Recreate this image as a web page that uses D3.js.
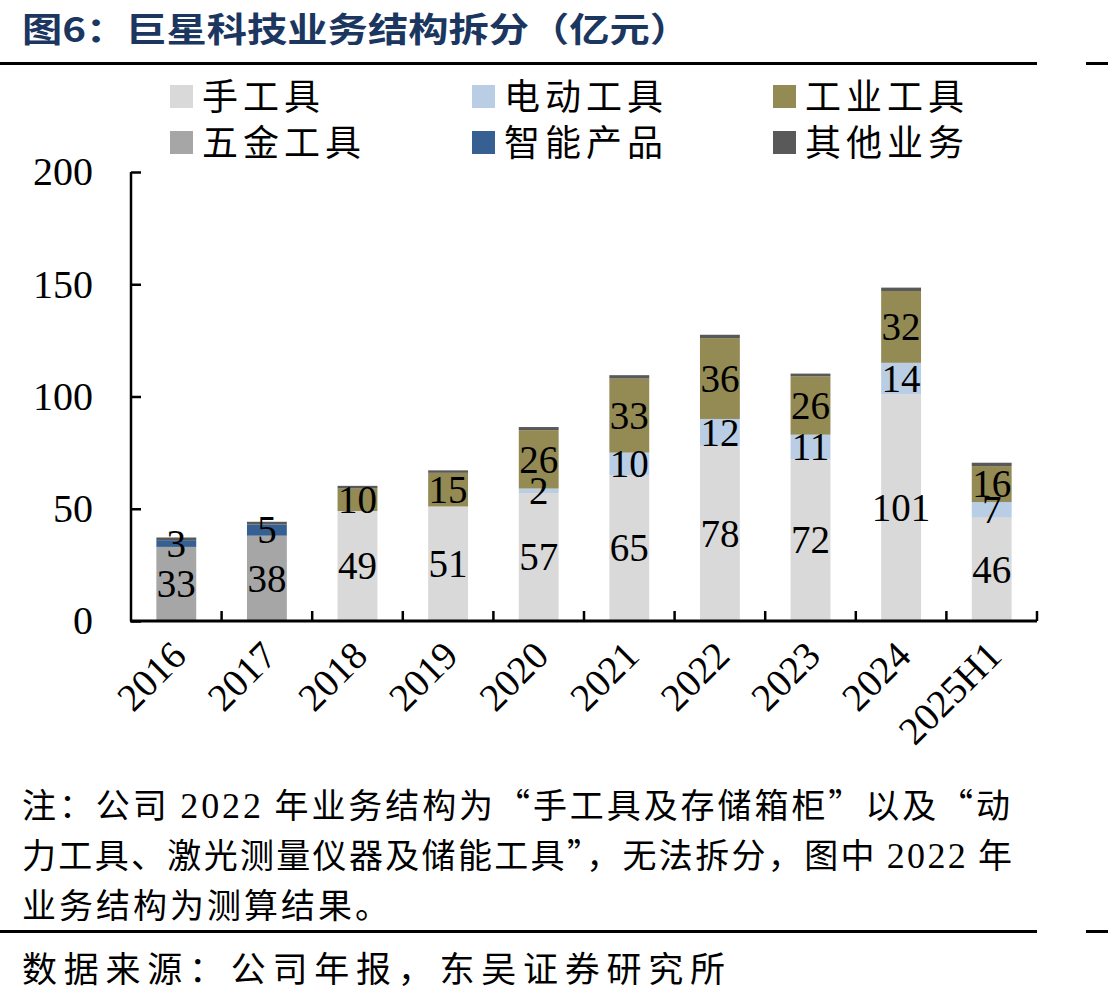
<!DOCTYPE html>
<html>
<head>
<meta charset="utf-8">
<script src="https://cdn.jsdelivr.net/npm/d3@7"></script>
<style>
    html, body { margin: 0; padding: 0; background: #fff; }
    svg { display: block; }
    .num { font-family: "Liberation Serif", "Noto Sans CJK SC", serif; }
    .cjk { font-family: "Liberation Serif", "Noto Sans CJK SC", sans-serif; }
    .note { font-family: "Noto Sans CJK SC", sans-serif; }
</style>
</head>
<body>
<div id="chart"></div>
<script>
    // 巨星科技业务结构拆分（亿元）
    var years = ["2016", "2017", "2018", "2019", "2020", "2021", "2022", "2023", "2024", "2025H1"];
    var handTools       = [0, 0, 49, 51, 57, 65, 78, 72, 101, 46];
    var hardwareTools   = [33, 38, 0, 0, 0, 0, 0, 0, 0, 0];
    var powerTools      = [0, 0, 0, 0, 2, 10, 12, 11, 14, 7];
    var smartProducts   = [3, 5, 0, 0, 0, 0, 0, 0, 0, 0];
    var industrialTools = [0, 0, 10, 15, 26, 33, 36, 26, 32, 16];
    var otherBusiness   = [1.2, 1.2, 1.2, 1.1, 1.4, 1.5, 1.5, 1.2, 1.5, 1.5];
    var yTicks = [0, 50, 100, 150, 200];

    var series = [
        {key: "手工具", values: handTools, color: "#d9d9d9", label: true},
        {key: "五金工具", values: hardwareTools, color: "#a6a6a6", label: true},
        {key: "电动工具", values: powerTools, color: "#b9cde5", label: true},
        {key: "智能产品", values: smartProducts, color: "#376092", label: true},
        {key: "工业工具", values: industrialTools, color: "#948a54", label: true},
        {key: "其他业务", values: otherBusiness, color: "#595959", label: false}
    ];
    // legend order (row by row)
    var legendOrder = ["手工具", "电动工具", "工业工具", "五金工具", "智能产品", "其他业务"];

    var width = 1108, height = 1002;
    var svg = d3.select("#chart").append("svg")
        .attr("width", width)
        .attr("height", height);

    // title
    svg.append("text")
        .attr("x", 22).attr("y", 42)
        .attr("textLength", 668)
        .attr("lengthAdjust", "spacingAndGlyphs")
        .style("font-family", "'Noto Sans CJK SC', sans-serif")
        .style("font-size", "34px")
        .style("font-weight", "bold")
        .style("fill", "#1b365f")
        .text("图6：巨星科技业务结构拆分（亿元）");

    function rule(y) {
        svg.append("rect").attr("x", 0).attr("y", y).attr("width", 1037).attr("height", 3).style("fill", "#000");
        svg.append("rect").attr("x", 1086).attr("y", y).attr("width", 22).attr("height", 3).style("fill", "#000");
    }
    rule(62);
    rule(930);

    // scales
    var x = d3.scaleBand()
        .domain(years)
        .range([131, 1037])
        .paddingInner(0.56)
        .paddingOuter(0.28);

    var y = d3.scaleLinear()
        .domain([0, 200])
        .range([621, 172]);

    var table = years.map(function (yr, i) {
        var row = {year: yr};
        series.forEach(function (s) { row[s.key] = s.values[i]; });
        return row;
    });

    var stack = d3.stack().keys(series.map(function (s) { return s.key; }));
    var stacked = stack(table);

    var layers = svg.append("g").selectAll("g")
        .data(stacked)
        .enter().append("g")
        .style("fill", function (d, i) { return series[i].color; });

    layers.selectAll("rect")
        .data(function (d) { return d; })
        .enter().append("rect")
        .filter(function (d) { return d[1] - d[0] > 0; })
        .attr("x", function (d) { return x(d.data.year); })
        .attr("y", function (d) { return y(d[1]); })
        .attr("width", x.bandwidth())
        .attr("height", function (d) { return y(d[0]) - y(d[1]); });

    // data labels
    stacked.forEach(function (layer, i) {
        if (!series[i].label) return;
        layer.forEach(function (d) {
            var v = d[1] - d[0];
            if (v <= 0) return;
            svg.append("text")
                .attr("class", "num")
                .attr("x", x(d.data.year) + x.bandwidth() / 2)
                .attr("y", (y(d[0]) + y(d[1])) / 2)
                .attr("dy", "0.34em")
                .attr("text-anchor", "middle")
                .style("font-size", "39px")
                .style("fill", "#000")
                .text(d3.format("d")(v));
        });
    });

    // y axis
    var yAxis = svg.append("g")
        .attr("transform", "translate(131,0)")
        .call(d3.axisLeft(y).tickValues(yTicks).tickSize(-10).tickPadding(38));
    yAxis.select(".domain").attr("stroke", "#000").attr("stroke-width", 2.5)
        .attr("d", "M0," + y(200) + "V" + y(0));
    yAxis.selectAll(".tick line").attr("stroke", "#000").attr("stroke-width", 2.5);
    yAxis.selectAll(".tick text")
        .attr("class", "num")
        .style("font-size", "40px")
        .style("fill", "#000");

    // x axis
    var step = x.step();
    svg.append("line")
        .attr("x1", 130).attr("x2", 1037)
        .attr("y1", y(0)).attr("y2", y(0))
        .attr("stroke", "#000").attr("stroke-width", 3);
    years.forEach(function (yr) {
        var bx = x(yr) + x.bandwidth() + (step - x.bandwidth()) / 2;
        svg.append("line")
            .attr("x1", bx).attr("x2", bx)
            .attr("y1", y(0)).attr("y2", y(0) - 10)
            .attr("stroke", "#000").attr("stroke-width", 2.5);
    });
    svg.append("g").selectAll("text")
        .data(years)
        .enter().append("text")
        .attr("class", "num")
        .attr("text-anchor", "end")
        .attr("transform", function (d) {
            var cx = x(d) + x.bandwidth() / 2;
            return "translate(" + (cx + 12) + "," + 658 + ") rotate(-45)";
        })
        .style("font-size", "39px")
        .style("fill", "#000")
        .text(function (d) { return d; });

    // legend
    var legendCols = [170, 472, 773], legendRows = [97, 143];
    legendOrder.forEach(function (name, i) {
        var s = series.find(function (d) { return d.key === name; });
        var lx = legendCols[i % 3], ly = legendRows[Math.floor(i / 3)];
        svg.append("rect")
            .attr("x", lx).attr("y", ly - 12)
            .attr("width", 23).attr("height", 23)
            .style("fill", s.color);
        svg.append("text")
            .attr("class", "cjk")
            .attr("x", lx + 32).attr("y", ly)
            .attr("dy", "0.36em")
            .style("font-size", "36px")
            .style("letter-spacing", "5px")
            .style("fill", "#000")
            .text(name);
    });

    // note + source
    var notes = [
        {parts: ["注：公司 ", "2022", " 年业务结构为“手工具及存储箱柜”以及“动"], len: 988},
        {parts: ["力工具、激光测量仪器及储能工具”，无法拆分，图中 ", "2022", " 年"], len: 990},
        {parts: ["业务结构为测算结果。"], len: 0}
    ];
    notes.forEach(function (n, i) {
        var t = svg.append("text")
            .attr("class", "note")
            .attr("x", 22).attr("y", 818 + i * 50)
            .style("font-size", "34px")
            .style("fill", "#000");
        n.parts.forEach(function (p) {
            var ts = t.append("tspan").text(p);
            if (/^\d+$/.test(p)) ts.style("font-family", "'Liberation Serif', serif").style("font-size", "36px");
        });
        if (n.len) t.attr("textLength", n.len).attr("lengthAdjust", "spacing");
        else t.style("letter-spacing", "3px");
    });
    svg.append("text")
        .attr("class", "note")
        .attr("x", 22).attr("y", 982)
        .attr("textLength", 703)
        .attr("lengthAdjust", "spacing")
        .style("font-size", "35px")
        .style("fill", "#000")
        .text("数据来源：公司年报，东吴证券研究所");
</script>
</body>
</html>
